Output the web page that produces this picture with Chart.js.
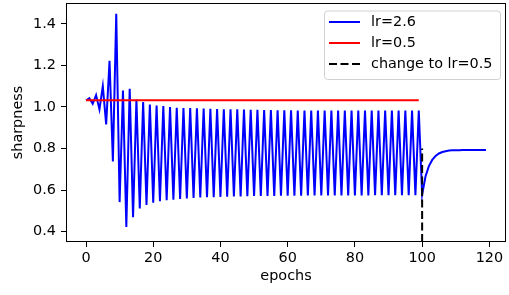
<!DOCTYPE html>
<html>
<head>
<meta charset="utf-8">
<script src="https://cdn.jsdelivr.net/npm/chart.js@4.4.0/dist/chart.umd.min.js"></script>
<style>
  html, body { margin: 0; padding: 0; background: #fff; }
</style>
</head>
<body>
<canvas id="myChart" width="509" height="295"></canvas>
<script>
// sharpness per epoch, lr=2.6 run (switches to lr=0.5 at epoch 100)
const lr26 = [
  1.031, 1.042, 1.015, 1.057, 0.988, 1.100, 0.916, 1.222, 0.738, 1.448,
  0.542, 1.079, 0.422, 1.087, 0.469, 1.036, 0.511, 1.023, 0.528, 1.012,
  0.539, 1.007, 0.546, 1.004, 0.551, 0.999, 0.554, 0.996, 0.557, 0.995,
  0.560, 0.994, 0.562, 0.993, 0.564, 0.992, 0.565, 0.991, 0.566, 0.990,
  0.567, 0.989, 0.568, 0.988, 0.569, 0.988, 0.569, 0.987, 0.570, 0.986,
  0.571, 0.986, 0.571, 0.985, 0.572, 0.985, 0.572, 0.984, 0.573, 0.984,
  0.573, 0.984, 0.573, 0.983, 0.573, 0.983, 0.574, 0.983, 0.574, 0.983,
  0.574, 0.983, 0.574, 0.982, 0.574, 0.982, 0.574, 0.982, 0.574, 0.982,
  0.574, 0.982, 0.574, 0.982, 0.574, 0.982, 0.575, 0.982, 0.575, 0.982,
  0.575, 0.982, 0.575, 0.982, 0.575, 0.982, 0.575, 0.982, 0.575, 0.982,
  0.578, 0.665, 0.715, 0.745, 0.764, 0.776, 0.783, 0.787, 0.790, 0.791,
  0.792, 0.792, 0.793, 0.793, 0.793, 0.793, 0.793, 0.793, 0.793, 0.793
];

// lr=0.5 run, epochs 0..99
const lr05 = [
  1.032, 1.032, 1.032, 1.032, 1.032, 1.032, 1.032, 1.032, 1.032, 1.032,
  1.032, 1.032, 1.032, 1.032, 1.032, 1.032, 1.032, 1.032, 1.032, 1.032,
  1.032, 1.032, 1.032, 1.032, 1.032, 1.032, 1.032, 1.032, 1.032, 1.032,
  1.032, 1.032, 1.032, 1.032, 1.032, 1.032, 1.032, 1.032, 1.032, 1.032,
  1.032, 1.032, 1.032, 1.032, 1.032, 1.032, 1.032, 1.032, 1.032, 1.032,
  1.032, 1.032, 1.032, 1.032, 1.032, 1.032, 1.032, 1.032, 1.032, 1.032,
  1.032, 1.032, 1.032, 1.032, 1.032, 1.032, 1.032, 1.032, 1.032, 1.032,
  1.032, 1.032, 1.032, 1.032, 1.032, 1.032, 1.032, 1.032, 1.032, 1.032,
  1.032, 1.032, 1.032, 1.032, 1.032, 1.032, 1.032, 1.032, 1.032, 1.032,
  1.032, 1.032, 1.032, 1.032, 1.032, 1.032, 1.032, 1.032, 1.032, 1.032
];

// vertical marker where lr changes
const changeX = [100, 100];
const changeY = [0.35, 0.8];

const xTicks = [0, 20, 40, 60, 80, 100, 120];
const yTicks = [0.4, 0.6, 0.8, 1.0, 1.2, 1.4];

const FONT = 'DejaVu Sans';
const FS = 14.4;

function toPoints(vals) {
  return vals.map((v, i) => ({ x: i, y: v }));
}

// full box around the plot area (matplotlib style spines)
const frame = {
  id: 'frame',
  afterDatasetsDraw(chart) {
    const { ctx, chartArea: a } = chart;
    ctx.save();
    ctx.strokeStyle = '#000';
    ctx.lineWidth = 1;
    ctx.strokeRect(Math.round(a.left) + 0.5, Math.round(a.top) + 0.5,
      Math.round(a.right - a.left) - 1, Math.round(a.bottom - a.top) - 1);
    ctx.restore();
  }
};

// legend box in the upper right of the plot
const boxLegend = {
  id: 'boxLegend',
  afterDraw(chart) {
    const ctx = chart.ctx;
    const bx = 324, by = 10.5, bw = 176, bh = 68.5, r = 3;
    ctx.save();
    ctx.beginPath();
    ctx.roundRect(bx + 0.5, by + 0.5, bw, bh, r);
    ctx.fillStyle = 'rgba(255,255,255,0.8)';
    ctx.fill();
    ctx.strokeStyle = '#d0d0d0';
    ctx.lineWidth = 1;
    ctx.stroke();
    ctx.font = FS + 'px "' + FONT + '"';
    ctx.textBaseline = 'middle';
    ctx.fillStyle = '#000';
    chart.data.datasets.forEach((ds, i) => {
      const y = 22 + i * 21;
      ctx.beginPath();
      ctx.setLineDash(ds.borderDash || []);
      ctx.strokeStyle = ds.borderColor;
      ctx.lineWidth = ds.borderWidth;
      ctx.moveTo(329, y);
      ctx.lineTo(360, y);
      ctx.stroke();
      ctx.setLineDash([]);
      ctx.fillText(ds.label, 371, y);
    });
    ctx.restore();
  }
};

var ctx = document.getElementById('myChart');
var chart = new Chart(ctx, {
  type: 'line',
  data: {
    datasets: [
      {
        label: 'lr=2.6',
        data: toPoints(lr26),
        borderColor: 'blue',
        backgroundColor: 'blue',
        borderWidth: 2,
        pointRadius: 0,
        fill: false,
        tension: 0,
        order: 2
      },
      {
        label: 'lr=0.5',
        data: toPoints(lr05),
        borderColor: 'red',
        backgroundColor: 'red',
        borderWidth: 2,
        pointRadius: 0,
        fill: false,
        tension: 0,
        order: 1
      },
      {
        label: 'change to lr=0.5',
        data: changeX.map((x, i) => ({ x: x, y: changeY[i] })),
        borderColor: 'black',
        backgroundColor: 'black',
        borderWidth: 2,
        borderDash: [8, 3.5],
        pointRadius: 0,
        fill: false,
        tension: 0,
        order: 0
      }
    ]
  },
  options: {
    responsive: false,
    animation: false,
    devicePixelRatio: 1,
    layout: { padding: { left: 0, right: 3, top: 3, bottom: 0 } },
    plugins: {
      legend: { display: false },
      tooltip: { enabled: false }
    },
    scales: {
      x: {
        type: 'linear',
        min: -5.95,
        max: 124.95,
        afterBuildTicks(s) { s.ticks = xTicks.map(v => ({ value: v })); },
        afterFit(s) { s.height = 53; s.paddingLeft = 0; s.paddingRight = 0; },
        grid: { drawOnChartArea: false, tickLength: 5, color: '#000', tickWidth: 1 },
        border: { display: false },
        ticks: {
          color: '#000',
          padding: 3,
          maxRotation: 0,
          font: { family: FONT, size: FS },
          callback: v => String(v)
        },
        title: {
          display: true,
          text: 'epochs',
          color: '#000',
          padding: { top: 0, bottom: 10 },
          font: { family: FONT, size: FS }
        }
      },
      y: {
        min: 0.35,
        max: 1.5,
        afterBuildTicks(s) { s.ticks = yTicks.map(v => ({ value: v })); },
        afterFit(s) { s.width = 66; s.paddingTop = 0; s.paddingBottom = 0; },
        grid: { drawOnChartArea: false, tickLength: 5, color: '#000', tickWidth: 1 },
        border: { display: false },
        ticks: {
          color: '#000',
          padding: 5,
          font: { family: FONT, size: FS },
          callback: v => Number(v).toFixed(1)
        },
        title: {
          display: true,
          text: 'sharpness',
          color: '#000',
          padding: { top: 10, bottom: 0 },
          font: { family: FONT, size: FS }
        }
      }
    }
  },
  plugins: [frame, boxLegend]
});
</script>
</body>
</html>
